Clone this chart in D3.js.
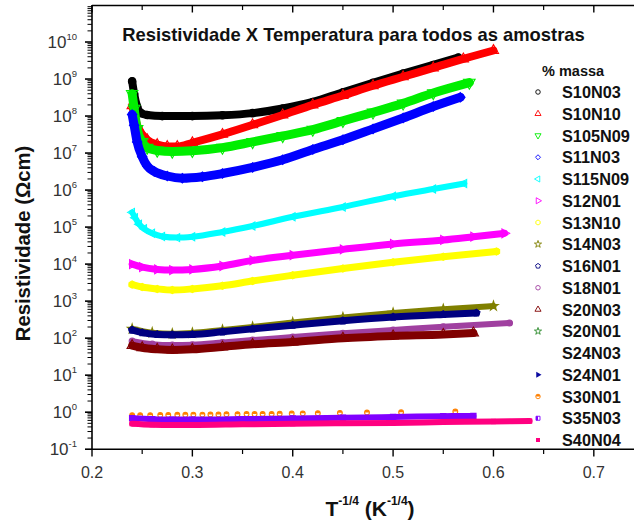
<!DOCTYPE html>
<html>
<head>
<meta charset="utf-8">
<script src="https://cdn.jsdelivr.net/npm/d3@7"></script>
<style>
  body { margin: 0; background: #fff; }
  svg { display: block; font-family: Arial, "Liberation Sans", Helvetica, sans-serif; }
</style>
</head>
<body>
<svg id="chart" width="634" height="525"></svg>
<script>
// Resistivity (Ω·cm) against T^-1/4 (K^-1/4), one array of [x, rho] pairs per sample
const S10N03  = [[0.240,8.7e8],[0.242,4.0e8],[0.245,1.8e8],[0.249,1.2e8],[0.255,1.07e8],[0.27,1.0e8],[0.30,1.0e8],[0.33,1.05e8],[0.36,1.2e8],[0.39,1.6e8],[0.42,2.4e8],[0.45,4.4e8],[0.48,7.9e8],[0.51,1.4e9],[0.54,2.4e9],[0.565,3.8e9]];
const S10N10  = [[0.240,1.9e8],[0.245,5.6e7],[0.25,3.2e7],[0.255,2.3e7],[0.265,1.7e7],[0.275,1.5e7],[0.285,1.5e7],[0.30,1.9e7],[0.33,3.2e7],[0.36,5.8e7],[0.39,1.07e8],[0.42,2.0e8],[0.45,3.6e8],[0.48,6.6e8],[0.51,1.15e9],[0.54,2.0e9],[0.57,3.5e9],[0.60,5.9e9]];
const S105N09 = [[0.240,4.0e8],[0.242,1.6e8],[0.245,4.5e7],[0.25,2.0e7],[0.255,1.4e7],[0.265,1.17e7],[0.28,1.1e7],[0.30,1.15e7],[0.33,1.4e7],[0.36,2.0e7],[0.39,2.9e7],[0.42,4.3e7],[0.45,7.4e7],[0.48,1.26e8],[0.51,2.2e8],[0.54,4.2e8],[0.576,8.0e8]];
const S11N03  = [[0.240,1.1e8],[0.242,5.6e7],[0.245,2.0e7],[0.25,8.0e6],[0.255,4.5e6],[0.262,3.2e6],[0.275,2.4e6],[0.29,2.1e6],[0.31,2.3e6],[0.33,2.8e6],[0.36,4.1e6],[0.39,6.6e6],[0.42,1.25e7],[0.45,2.3e7],[0.48,4.5e7],[0.51,8.9e7],[0.54,1.8e8],[0.567,3.2e8]];
const S115N09 = [[0.240,2.5e5],[0.243,1.8e5],[0.247,1.2e5],[0.252,9.0e4],[0.26,6.8e4],[0.27,5.6e4],[0.285,5.2e4],[0.30,5.5e4],[0.33,7.4e4],[0.36,1.07e5],[0.40,1.9e5],[0.45,3.5e5],[0.50,6.8e5],[0.54,1.07e6],[0.571,1.5e6]];
const S12N01  = [[0.240,1.0e4],[0.25,8.3e3],[0.265,7.2e3],[0.28,6.9e3],[0.30,7.2e3],[0.33,8.9e3],[0.36,1.26e4],[0.40,1.74e4],[0.45,2.5e4],[0.50,3.5e4],[0.55,4.5e4],[0.58,5.5e4],[0.611,6.8e4]];
const S13N10  = [[0.240,2.8e3],[0.25,2.4e3],[0.265,2.14e3],[0.28,2.0e3],[0.30,2.14e3],[0.33,2.6e3],[0.36,3.5e3],[0.40,5.0e3],[0.45,7.6e3],[0.50,1.12e4],[0.55,1.58e4],[0.603,2.2e4]];
const S14N03  = [[0.240,178],[0.26,141],[0.28,132],[0.30,138],[0.33,166],[0.36,200],[0.40,263],[0.45,363],[0.50,479],[0.55,603],[0.60,740]];
const S16N01  = [[0.240,166],[0.25,141],[0.265,126],[0.28,123],[0.30,126],[0.33,148],[0.36,178],[0.40,224],[0.45,295],[0.50,372],[0.55,437],[0.583,479]];
const S18N01  = [[0.240,83],[0.26,69],[0.28,65],[0.30,66],[0.33,76],[0.36,89],[0.40,107],[0.45,135],[0.50,166],[0.55,204],[0.616,257]];
const S20N03  = [[0.240,63],[0.25,55],[0.265,50],[0.28,48],[0.30,50],[0.33,58],[0.36,68],[0.40,79],[0.45,100],[0.50,115],[0.55,126],[0.58,138]];
const S20N01  = [];
const S24N03  = [];
const S24N01  = [];
const S30N01  = [[0.240,0.83],[0.248,0.83],[0.258,0.83],[0.268,0.84],[0.276,0.84],[0.285,0.85],[0.293,0.85],[0.301,0.86],[0.310,0.86],[0.318,0.87],[0.326,0.87],[0.334,0.88],[0.345,0.88],[0.354,0.89],[0.362,0.89],[0.370,0.9],[0.379,0.9],[0.387,0.91],[0.399,0.92],[0.410,0.93],[0.425,0.94],[0.447,0.96],[0.474,0.98],[0.508,1.0],[0.562,1.05]];
const S35N03  = [[0.240,0.69],[0.26,0.65],[0.28,0.63],[0.30,0.63],[0.35,0.65],[0.40,0.68],[0.45,0.71],[0.50,0.74],[0.55,0.78],[0.58,0.79]];
const S40N04  = [[0.240,0.49],[0.26,0.46],[0.28,0.45],[0.30,0.45],[0.35,0.47],[0.40,0.49],[0.45,0.50],[0.50,0.51],[0.55,0.54],[0.60,0.56],[0.636,0.575]];

const sampleNames = ["S10N03","S10N10","S105N09","S11N03","S115N09","S12N01","S13N10","S14N03","S16N01","S18N01","S20N03","S20N01","S24N03","S24N01","S30N01","S35N03","S40N04"];
const sampleData  = [S10N03,S10N10,S105N09,S11N03,S115N09,S12N01,S13N10,S14N03,S16N01,S18N01,S20N03,S20N01,S24N03,S24N01,S30N01,S35N03,S40N04];
const xTickValues = [0.2,0.3,0.4,0.5,0.6,0.7];
const xMinorTicks = [0.25,0.35,0.45,0.55,0.65,0.75];
const yExponents  = [-1,0,1,2,3,4,5,6,7,8,9,10];

const chartTitle  = "Resistividade X Temperatura para todos as amostras";
const legendTitle = "% massa";

// custom marker shapes
const hexagon = { draw(ctx, size) {
  const r = Math.sqrt(size / 2.598);
  for (let i = 0; i < 6; i++) {
    const a = Math.PI / 6 + i * Math.PI / 3;
    i ? ctx.lineTo(r * Math.cos(a), r * Math.sin(a)) : ctx.moveTo(r * Math.cos(a), r * Math.sin(a));
  }
  ctx.closePath();
}};
const pentagon = { draw(ctx, size) {
  const r = Math.sqrt(size / 2.378);
  for (let i = 0; i < 5; i++) {
    const a = -Math.PI / 2 + i * 2 * Math.PI / 5;
    i ? ctx.lineTo(r * Math.cos(a), r * Math.sin(a)) : ctx.moveTo(r * Math.cos(a), r * Math.sin(a));
  }
  ctx.closePath();
}};

// marker + band style for each sample (same order as sampleNames)
const styles = [
  { color: "#000000", shape: d3.symbolCircle,   rot: 0,   band: 8 },
  { color: "#ff0000", shape: d3.symbolTriangle, rot: 0,   band: 8 },
  { color: "#00ee00", shape: d3.symbolTriangle, rot: 180, band: 9 },
  { color: "#0000ff", shape: d3.symbolDiamond2, rot: 0,   band: 9 },
  { color: "#00ffff", shape: d3.symbolTriangle, rot: -90, band: 6 },
  { color: "#ff00ff", shape: d3.symbolTriangle, rot: 90,  band: 7 },
  { color: "#ffff00", shape: hexagon,           rot: 0,   band: 7 },
  { color: "#808000", shape: d3.symbolStar,     rot: 0,   band: 6 },
  { color: "#000080", shape: pentagon,          rot: 0,   band: 7 },
  { color: "#a040a0", shape: d3.symbolCircle,   rot: 0,   band: 6 },
  { color: "#800000", shape: d3.symbolTriangle, rot: 0,   band: 8 },
  { color: "#2a8a2a", shape: d3.symbolStar,     rot: 0,   band: 6 },
  { color: null,      shape: null,              rot: 0,   band: 0 },
  { color: "#0a0aa0", shape: d3.symbolTriangle, rot: 90,  band: 6, fill: "full" },
  { color: "#ff8000", shape: d3.symbolCircle,   rot: 0,   band: 0, fill: "top" },
  { color: "#8000ff", shape: d3.symbolSquare,   rot: 0,   band: 6, fill: "left" },
  { color: "#ff0080", shape: d3.symbolSquare,   rot: 0,   band: 6, fill: "full" }
];

const svg = d3.select("#chart");
const x = d3.scaleLinear().domain([0.2, 0.75]).range([92, 644]);
const y = d3.scaleLog().domain([0.1, 1e11]).range([449.2, 5]);

const plot = svg.append("g");
const defs = svg.append("defs");

// data bands and markers, drawn in sample order so later samples lie on top
const line = d3.line().x(d => x(d[0])).y(d => y(d[1])).curve(d3.curveMonotoneX);

function drawMarker(g, st, cx, cy, size, sw) {
  if (!st.shape) return;
  const path = d3.symbol().type(st.shape).size(size)();
  const m = g.append("g").attr("transform", `translate(${cx},${cy}) rotate(${st.rot})`);
  if (st.fill === "top" || st.fill === "left") {
    const r = Math.sqrt(size) / 2 + 1;
    const id = "clip-" + st.fill + "-" + Math.round(size);
    if (defs.select("#" + id).empty()) {
      const cp = defs.append("clipPath").attr("id", id);
      if (st.fill === "top") cp.append("rect").attr("x", -r).attr("y", -r).attr("width", 2 * r).attr("height", r);
      else cp.append("rect").attr("x", -r).attr("y", -r).attr("width", r).attr("height", 2 * r);
    }
    m.append("path").attr("d", path).attr("fill", st.color).attr("clip-path", `url(#${id})`);
    m.append("path").attr("d", path).attr("fill", "none").attr("stroke", st.color).attr("stroke-width", sw);
  } else if (st.fill === "full") {
    m.append("path").attr("d", path).attr("fill", st.color);
  } else {
    m.append("path").attr("d", path).attr("fill", "none").attr("stroke", st.color).attr("stroke-width", sw);
  }
}

sampleData.forEach((data, i) => {
  const st = styles[i];
  if (!data.length || !st.color) return;
  const g = plot.append("g");
  if (st.band > 0) {
    g.append("path")
      .attr("d", line(data))
      .attr("fill", "none")
      .attr("stroke", st.color)
      .attr("stroke-width", st.band)
      .attr("stroke-linecap", "round")
      .attr("stroke-linejoin", "round");
  }
  const size = st.band > 0 ? Math.max(28, st.band * st.band * 0.7) : 18;
  data.forEach(d => drawMarker(g, st, x(d[0]), y(d[1]), size, 1.1));
});

// axes
const axisColor = "#000";
const labelColor = "#333";

// bottom axis
const bottomAxis = svg.append("g");
bottomAxis.append("line").attr("x1", 92).attr("x2", 634).attr("y1", 449.2).attr("y2", 449.2)
  .attr("stroke", axisColor).attr("stroke-width", 1.6);
xTickValues.forEach(v => {
  bottomAxis.append("line").attr("x1", x(v)).attr("x2", x(v)).attr("y1", 449.2).attr("y2", 456.5)
    .attr("stroke", axisColor).attr("stroke-width", 1.4);
  bottomAxis.append("text").attr("x", x(v)).attr("y", 477.5).attr("text-anchor", "middle")
    .attr("font-size", 16).attr("fill", labelColor).text(d3.format(".1f")(v));
});
xMinorTicks.forEach(v => {
  bottomAxis.append("line").attr("x1", x(v)).attr("x2", x(v)).attr("y1", 449.2).attr("y2", 454)
    .attr("stroke", axisColor).attr("stroke-width", 1.2);
});

// top axis (ticks inward)
const topAxis = svg.append("g");
topAxis.append("line").attr("x1", 92).attr("x2", 634).attr("y1", 5.5).attr("y2", 5.5)
  .attr("stroke", axisColor).attr("stroke-width", 1.6);
xTickValues.forEach(v => {
  topAxis.append("line").attr("x1", x(v)).attr("x2", x(v)).attr("y1", 5.5).attr("y2", 12.5)
    .attr("stroke", axisColor).attr("stroke-width", 1.4);
});
xMinorTicks.forEach(v => {
  topAxis.append("line").attr("x1", x(v)).attr("x2", x(v)).attr("y1", 5.5).attr("y2", 10)
    .attr("stroke", axisColor).attr("stroke-width", 1.2);
});

// left axis, log scale with minor ticks
const leftAxis = svg.append("g");
leftAxis.append("line").attr("x1", 92).attr("x2", 92).attr("y1", 5).attr("y2", 449.2)
  .attr("stroke", axisColor).attr("stroke-width", 1.6);
for (let e = -1; e <= 10; e++) {
  for (let k = 2; k <= 9; k++) {
    const yy = y(k * Math.pow(10, e));
    leftAxis.append("line").attr("x1", 92).attr("x2", 87.5).attr("y1", yy).attr("y2", yy)
      .attr("stroke", axisColor).attr("stroke-width", 1);
  }
}
yExponents.forEach(e => {
  const yy = y(Math.pow(10, e));
  leftAxis.append("line").attr("x1", 92).attr("x2", 85).attr("y1", yy).attr("y2", yy)
    .attr("stroke", axisColor).attr("stroke-width", 1.6);
  const t = leftAxis.append("text").attr("x", 77).attr("y", yy + 6).attr("text-anchor", "end")
    .attr("fill", labelColor).attr("font-size", 17);
  t.append("tspan").text("10");
  t.append("tspan").attr("font-size", 9.5).attr("dy", -8).text(String(e));
});

// titles
svg.append("text").attr("x", 353.5).attr("y", 41).attr("text-anchor", "middle")
  .attr("font-size", 18.4).attr("font-weight", "bold").attr("fill", "#111").text(chartTitle);

svg.append("text").attr("transform", "translate(30,243.5) rotate(-90)").attr("text-anchor", "middle")
  .attr("font-size", 20.3).attr("font-weight", "bold").attr("fill", "#111").text("Resistividade (Ωcm)");

const xl = svg.append("text").attr("x", 370).attr("y", 516).attr("text-anchor", "middle")
  .attr("font-size", 21).attr("font-weight", "bold").attr("fill", "#111");
xl.append("tspan").text("T");
xl.append("tspan").attr("font-size", 12).attr("dy", -11).text("-1/4");
xl.append("tspan").attr("dy", 11).text(" (K");
xl.append("tspan").attr("font-size", 12).attr("dy", -11).text("-1/4");
xl.append("tspan").attr("dy", 11).text(")");

// legend
const legend = svg.append("g");
legend.append("text").attr("x", 542).attr("y", 76).attr("font-size", 14.5).attr("font-weight", "bold")
  .attr("fill", "#111").text(legendTitle);
sampleNames.forEach((name, i) => {
  const cy = 92 + i * 21.75;
  drawMarker(legend, styles[i], 538, cy, 16, 0.9);
  legend.append("text").attr("x", 562).attr("y", cy + 6).attr("font-size", 16.3).attr("font-weight", "bold")
    .attr("fill", "#111").text(name);
});
</script>
</body>
</html>
